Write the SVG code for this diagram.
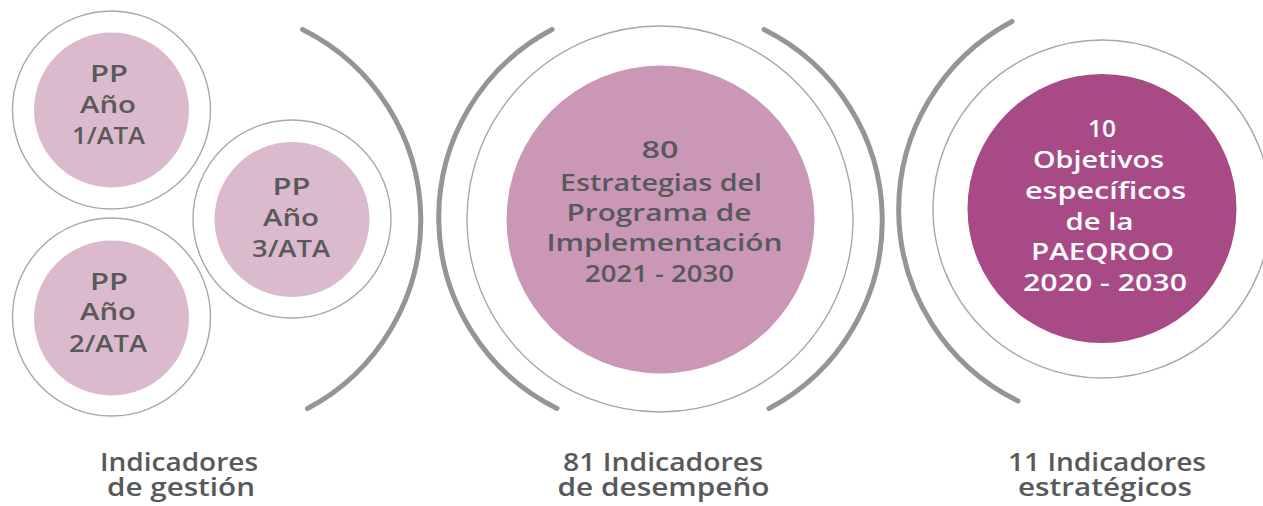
<svg xmlns="http://www.w3.org/2000/svg" width="1263" height="506" viewBox="0 0 1263 506">
<style>
  .ring { fill: #ffffff; stroke: #a7a8aa; stroke-width: 1.4; }
  .arc { fill: none; stroke: #939598; stroke-width: 5; stroke-linecap: round; }
  .t { font-family: "Open Sans", "Liberation Sans", sans-serif; font-weight: 600; text-anchor: middle; fill: #58595b; font-size: 24px; }
  .w { fill: #ffffff; }
  .lbl { font-size: 26px; }
  .f1 { fill: #dbbacd; }
  .f2 { fill: #cb97b7; }
  .f3 { fill: #a84a86; }
</style>
<rect width="1263" height="506" fill="#ffffff"/>
<g id="connectors">
  <path class="arc" d="M 302.5 29.5 A 213 213 0 0 1 307.5 408.5"/>
  <path class="arc" d="M 552 29.5 A 213 213 0 0 0 557 408.5"/>
  <path class="arc" d="M 764 29.5 A 213 213 0 0 1 769 408.5"/>
  <path class="arc" d="M 1012 21.5 A 213 213 0 0 0 1018 401"/>
</g>
<g id="pp1">
  <circle class="ring" cx="111.5" cy="110" r="99"/>
  <circle class="f1" cx="111.5" cy="110" r="77.5"/>
  <text class="t" x="109" y="82" textLength="38" lengthAdjust="spacingAndGlyphs">PP</text>
  <text class="t" x="108" y="113" textLength="56" lengthAdjust="spacingAndGlyphs">Año</text>
  <text class="t" x="108.5" y="144" textLength="73" lengthAdjust="spacingAndGlyphs">1/ATA</text>
</g>
<g id="pp2">
  <circle class="ring" cx="111.5" cy="317" r="99"/>
  <circle class="f1" cx="111.5" cy="318" r="77.5"/>
  <text class="t" x="109" y="289.5" textLength="38" lengthAdjust="spacingAndGlyphs">PP</text>
  <text class="t" x="108" y="320" textLength="56" lengthAdjust="spacingAndGlyphs">Año</text>
  <text class="t" x="108" y="351.5" textLength="78" lengthAdjust="spacingAndGlyphs">2/ATA</text>
</g>
<g id="pp3">
  <circle class="ring" cx="292" cy="219" r="99"/>
  <circle class="f1" cx="292" cy="219.5" r="77.5"/>
  <text class="t" x="291.5" y="195" textLength="38" lengthAdjust="spacingAndGlyphs">PP</text>
  <text class="t" x="291" y="225.5" textLength="56" lengthAdjust="spacingAndGlyphs">Año</text>
  <text class="t" x="291" y="256.5" textLength="78" lengthAdjust="spacingAndGlyphs">3/ATA</text>
</g>
<g id="estrategias">
  <circle class="ring" cx="660" cy="219" r="193"/>
  <circle class="f2" cx="660.5" cy="219.5" r="154"/>
  <text class="t" x="660" y="158" textLength="37" lengthAdjust="spacingAndGlyphs">80</text>
  <text class="t" x="661" y="190.5" textLength="202" lengthAdjust="spacingAndGlyphs">Estrategias del</text>
  <text class="t" x="659" y="220.5" textLength="185" lengthAdjust="spacingAndGlyphs">Programa de</text>
  <text class="t" x="664.5" y="250.5" textLength="236" lengthAdjust="spacingAndGlyphs">Implementación</text>
  <text class="t" x="659.5" y="281.5" textLength="149" lengthAdjust="spacingAndGlyphs">2021 - 2030</text>
</g>
<g id="objetivos">
  <circle class="ring" cx="1102" cy="209" r="169"/>
  <circle class="f3" cx="1102" cy="208.5" r="134.5"/>
  <text class="t w" x="1102" y="137" textLength="28" lengthAdjust="spacingAndGlyphs">10</text>
  <text class="t w" x="1098.5" y="168" textLength="131" lengthAdjust="spacingAndGlyphs">Objetivos</text>
  <text class="t w" x="1105.5" y="199" textLength="161" lengthAdjust="spacingAndGlyphs">específicos</text>
  <text class="t w" x="1099.5" y="229.5" textLength="68" lengthAdjust="spacingAndGlyphs">de la</text>
  <text class="t w" x="1102.5" y="260" textLength="143" lengthAdjust="spacingAndGlyphs">PAEQROO</text>
  <text class="t w" x="1105" y="290.5" textLength="164" lengthAdjust="spacingAndGlyphs">2020 - 2030</text>
</g>
<g id="label-gestion">
  <text class="t lbl"><tspan x="179" y="471" textLength="158" lengthAdjust="spacingAndGlyphs">Indicadores</tspan><tspan x="181" y="496" textLength="148" lengthAdjust="spacingAndGlyphs">de gestión</tspan></text>
</g>
<g id="label-desempeno">
  <text class="t lbl"><tspan x="663" y="471" textLength="200" lengthAdjust="spacingAndGlyphs">81 Indicadores</tspan><tspan x="663.5" y="496" textLength="212" lengthAdjust="spacingAndGlyphs">de desempeño</tspan></text>
</g>
<g id="label-estrategicos">
  <text class="t lbl"><tspan x="1107" y="471" textLength="198" lengthAdjust="spacingAndGlyphs">11 Indicadores</tspan><tspan x="1105" y="496" textLength="174" lengthAdjust="spacingAndGlyphs">estratégicos</tspan></text>
</g>
</svg>
